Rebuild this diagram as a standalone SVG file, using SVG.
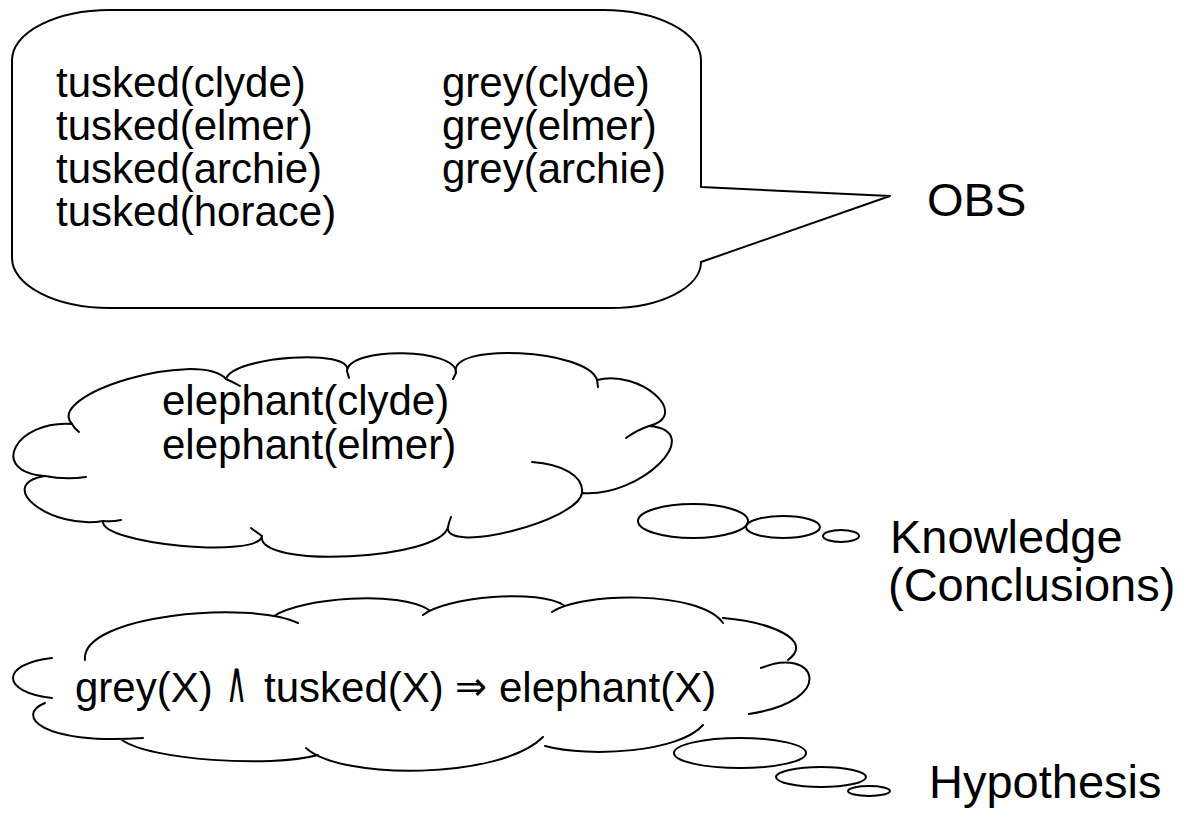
<svg xmlns="http://www.w3.org/2000/svg" width="1184" height="816" viewBox="0 0 1184 816">
<style>
.ln{fill:none;stroke:#000;stroke-width:2;stroke-linejoin:round;stroke-linecap:round}
.sh{fill:#fff;stroke:#000;stroke-width:2;stroke-linejoin:round}
.t{font-family:"Liberation Sans",Arial,sans-serif;font-size:42px;fill:#000}
.lb{font-family:"Liberation Sans",Arial,sans-serif;font-size:47px;fill:#000}
.sym{font-family:"DejaVu Sans",sans-serif;fill:#000}
</style>
<rect width="1184" height="816" fill="#fff"/>
<g id="obs-bubble">
<path class="sh" d="M110,10 H603 A98,50 0 0 1 701,60 V187 L890,196 L701,262 A91,46 0 0 1 610,308 H110 A98,50 0 0 1 12,258 V60 A98,50 0 0 1 110,10 Z"/>
<text class="t" x="56" y="97">tusked(clyde)</text>
<text class="t" x="56" y="140">tusked(elmer)</text>
<text class="t" x="56" y="183">tusked(archie)</text>
<text class="t" x="56" y="226">tusked(horace)</text>
<text class="t" x="442" y="97">grey(clyde)</text>
<text class="t" x="442" y="140">grey(elmer)</text>
<text class="t" x="442" y="183">grey(archie)</text>
</g>
<g id="obs-label"><text class="lb" x="927" y="216">OBS</text></g>
<g id="knowledge-cloud">
<path class="sh" d="M72,424 C44,394 198,349 226,379 C233,356 354,348 347,371 C349,346 458,348 456,373 C447,342 588,349 597,380 C640,369 692,415 649,426 C708,431 641,498 582,493 C578,521 444,555 448,527 C441,560 255,569 262,536 C259,559 100,544 103,521 C51,530 -7,485 45,476 C-12,472 15,420 72,424 Z"/>
<path class="ln" d="M72,424 Q74,428 79,432 M226,379 Q233,382 240,386 M347,371 L349,378 M456,373 L453,379 M597,380 L598,387 M649,426 Q637,430 626,438 M582,493 C584,476 562,464 532,462 M448,527 Q449,522 451,517 M262,536 Q256,532 251,528 M103,521 Q112,522 121,520 M45,476 Q65,480 86,477"/>
<text class="t" x="162" y="415">elephant(clyde)</text>
<text class="t" x="162" y="459">elephant(elmer)</text>
<ellipse class="ln" cx="693" cy="521" rx="55" ry="17"/>
<ellipse class="ln" cx="783" cy="527" rx="37" ry="11"/>
<ellipse class="ln" cx="841" cy="536" rx="18" ry="6"/>
</g>
<g id="knowledge-label">
<text class="lb" x="890" y="553">Knowledge</text>
<text class="lb" x="888" y="601">(Conclusions)</text>
</g>
<g id="hypothesis-cloud">
<path class="ln" d="M85,660 C80,615 250,600 298,623 M274,616 C300,598 400,590 429,610 M423,615 C445,597 540,588 565,606 M552,612 C580,592 700,590 723,623 M723,618 C770,622 815,640 788,660 M761,668 C815,645 840,700 749,714 M703,725 C680,752 590,758 545,746 M306,748 C340,780 500,780 543,737 M122,740 C150,760 270,768 318,755 M45,703 C15,715 40,745 143,738 M52,658 C0,664 0,692 52,698"/>
<text class="t" y="702"><tspan x="75">grey(X)</tspan><tspan x="264">tusked(X)</tspan><tspan x="499">elephant(X)</tspan></text>
<text class="sym" font-size="58" transform="translate(226,702) scale(0.5,1)">∧</text>
<text class="sym" font-size="40" transform="translate(455,700) scale(0.95,1)">⇒</text>
<ellipse class="ln" cx="740" cy="753" rx="66" ry="15"/>
<ellipse class="ln" cx="821" cy="777" rx="45" ry="10"/>
<ellipse class="ln" cx="869" cy="791" rx="21" ry="5"/>
</g>
<g id="hypothesis-label"><text class="lb" x="929" y="798">Hypothesis</text></g>
</svg>
